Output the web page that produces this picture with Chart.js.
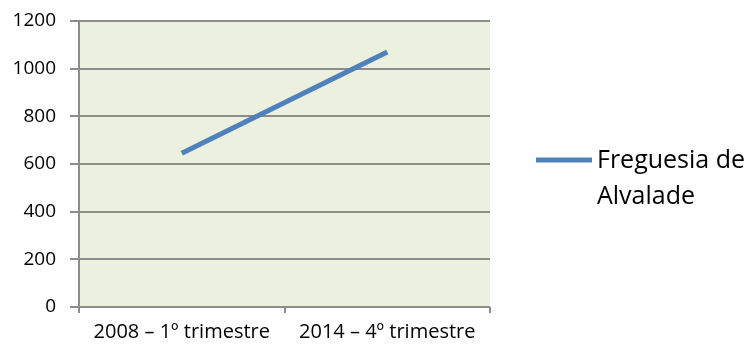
<!DOCTYPE html>
<html>
<head>
<meta charset="utf-8">
<script src="https://cdn.jsdelivr.net/npm/chart.js@4"></script>
<style>
  html, body { margin: 0; padding: 0; background: #fff; }
  #wrap { width: 750px; height: 345px; position: relative; }
</style>
</head>
<body>
<div id="wrap"><canvas id="chart"></canvas></div>
<script>
const categories = ["2008 – 1º trimestre", "2014 – 4º trimestre"];
const alvalade = [645, 1070];
const seriesLabel = ["Freguesia de", "Alvalade"];
const yMin = 0, yMax = 1200, yStep = 200;

const FONT = "'Open Sans', sans-serif";
const GRID = "#8c8c8c";

// plot background
const plotBg = {
  id: "plotBg",
  beforeDraw(chart) {
    const { ctx, chartArea: a } = chart;
    ctx.save();
    ctx.fillStyle = "#EBF1DE";
    ctx.fillRect(a.left, a.top, a.right - a.left, a.bottom - a.top);
    ctx.restore();
  }
};

// legend on the right, label broken over two lines
const sideLegend = {
  id: "sideLegend",
  afterDraw(chart) {
    const ctx = chart.ctx;
    const ds = chart.data.datasets[0];
    ctx.save();
    ctx.strokeStyle = ds.borderColor;
    ctx.lineWidth = 5;
    ctx.beginPath();
    ctx.moveTo(536, 160);
    ctx.lineTo(592, 160);
    ctx.stroke();
    ctx.fillStyle = "#000";
    ctx.font = "25px " + FONT;
    ctx.textBaseline = "alphabetic";
    ds.label.forEach((t, i) => ctx.fillText(t, 597, 168 + i * 36));
    ctx.restore();
  }
};

new Chart(document.getElementById("chart"), {
  type: "line",
  data: {
    labels: categories,
    datasets: [{
      label: seriesLabel,
      data: alvalade,
      borderColor: "#4F81BD",
      borderWidth: 5,
      pointRadius: 0,
      tension: 0
    }]
  },
  options: {
    responsive: true,
    maintainAspectRatio: false,
    animation: false,
    layout: { padding: { left: 0, top: 21, right: 260, bottom: 0 } },
    scales: {
      x: {
        offset: true,
        grid: { offset: true, drawOnChartArea: false, color: GRID, lineWidth: 2, tickLength: 6 },
        border: { display: false },
        ticks: { color: "#000", font: { family: FONT, size: 20 }, padding: 7, maxRotation: 0 },
        afterFit: s => { s.height = 38; s.paddingLeft = 0; s.paddingRight = 0; }
      },
      y: {
        min: yMin,
        max: yMax,
        ticks: {
          stepSize: yStep,
          color: "#000",
          font: { family: FONT, size: 19 },
          padding: 14,
          callback: v => String(v)
        },
        grid: { color: GRID, lineWidth: 2, tickLength: 9 },
        border: { display: true, color: GRID, width: 2 },
        afterFit: s => { s.width = 79; s.paddingTop = 0; s.paddingBottom = 0; }
      }
    },
    plugins: {
      legend: { display: false },
      tooltip: { enabled: false }
    }
  },
  plugins: [plotBg, sideLegend]
});
</script>
</body>
</html>
